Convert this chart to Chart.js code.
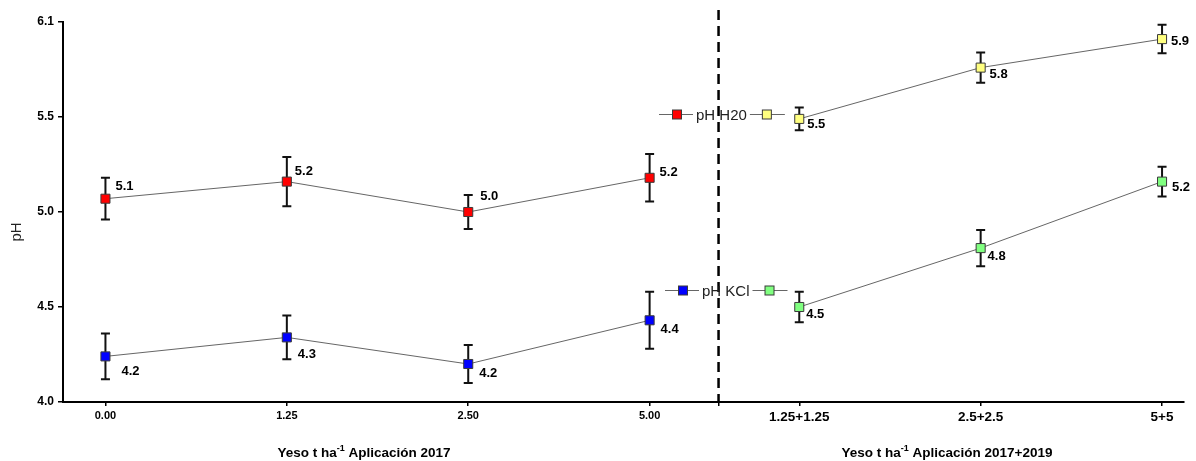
<!DOCTYPE html>
<html>
<head>
<meta charset="utf-8">
<title>pH</title>
<script src="https://cdn.jsdelivr.net/npm/chart.js@4.4.1/dist/chart.umd.min.js"></script>
<style>
  html, body { margin: 0; padding: 0; background: #fff; }
  canvas { display: block; }
</style>
</head>
<body>
<canvas id="phChart" width="1196" height="461"></canvas>
<script>
// doses (t/ha of gypsum) and their tick labels
const doses2017 = ["0.00", "1.25", "2.50", "5.00"];
const doses2019 = ["1.25+1.25", "2.5+2.5", "5+5"];
const yTickValues = [4.0, 4.5, 5.0, 5.5, 6.0];
const yTickLabels = ["4.0", "4.5", "5.0", "5.5", "6.1"];

// means and error (+/-) per dose
const phWater2017 = [5.07, 5.16, 5.00, 5.18];
const phWater2017Err = [0.11, 0.13, 0.09, 0.125];
const phKcl2017 = [4.24, 4.34, 4.20, 4.43];
const phKcl2017Err = [0.12, 0.115, 0.10, 0.15];
const phWater2019 = [5.49, 5.76, 5.91];
const phWater2019Err = [0.06, 0.08, 0.075];
const phKcl2019 = [4.50, 4.81, 5.16];
const phKcl2019Err = [0.08, 0.095, 0.078];

// x positions: the 2017+2019 group sits after a short break
const groupStart2019 = 3.825;
const dividerX = 3.38;
const x2017 = doses2017.map((d, i) => i);
const x2019 = doses2019.map((d, i) => groupStart2019 + i);

const fontFamily = '"Liberation Sans", Arial, Helvetica, sans-serif';

const series = [
  { name: "pH H20", xs: x2017, ys: phWater2017, err: phWater2017Err, color: "#ff0000",
    offsets: [[19, -12], [17, -10], [21, -16], [19, -5]] },
  { name: "pH KCl", xs: x2017, ys: phKcl2017, err: phKcl2017Err, color: "#0000ff",
    offsets: [[25, 15], [20, 17], [20, 9], [20, 9]] },
  { name: "pH H20", xs: x2019, ys: phWater2019, err: phWater2019Err, color: "#ffff80",
    offsets: [[17, 6], [18, 7], [18, 2]] },
  { name: "pH KCl", xs: x2019, ys: phKcl2019, err: phKcl2019Err, color: "#80ff80",
    offsets: [[16, 7], [16, 8], [19, 6]] }
];

// legend rows drawn inside the plot: left marker, text, right marker
const legendRows = [
  { text: "pH H20", x: 696, y: 114.5, left: 0, right: 2 },
  { text: "pH KCl", x: 702, y: 290.5, left: 1, right: 3 }
];

function drawSquare(ctx, cx, cy, color) {
  ctx.fillStyle = color;
  ctx.strokeStyle = "#3a3a3a";
  ctx.lineWidth = 1;
  ctx.fillRect(cx - 4.5, cy - 4.5, 9, 9);
  ctx.strokeRect(cx - 4.5, cy - 4.5, 9, 9);
}

// text with a superscript part, centred on cx
function drawSupText(ctx, before, sup, after, cx, cy, size) {
  const main = `bold ${size}px ${fontFamily}`;
  const small = `bold ${Math.round(size * 0.65)}px ${fontFamily}`;
  ctx.font = main;
  const w1 = ctx.measureText(before).width;
  const w3 = ctx.measureText(after).width;
  ctx.font = small;
  const w2 = ctx.measureText(sup).width;
  let x = cx - (w1 + w2 + w3) / 2;
  ctx.textAlign = "left";
  ctx.textBaseline = "alphabetic";
  ctx.fillStyle = "#000";
  ctx.font = main;
  ctx.fillText(before, x, cy + size * 0.35);
  x += w1;
  ctx.font = small;
  ctx.fillText(sup, x, cy - size * 0.1);
  x += w2;
  ctx.font = main;
  ctx.fillText(after, x, cy + size * 0.35);
}

const whiteBackground = {
  id: "whiteBackground",
  beforeDraw(chart) {
    const ctx = chart.ctx;
    ctx.save();
    ctx.fillStyle = "#fff";
    ctx.fillRect(0, 0, chart.width, chart.height);
    ctx.restore();
  }
};

const errorBars = {
  id: "errorBars",
  beforeDatasetsDraw(chart) {
    const { ctx, scales: { y } } = chart;
    ctx.save();
    ctx.strokeStyle = "#111";
    ctx.lineWidth = 2;
    chart.data.datasets.forEach((ds, di) => {
      chart.getDatasetMeta(di).data.forEach((pt, i) => {
        const v = ds.data[i].y;
        const e = ds.errors[i];
        const top = y.getPixelForValue(v + e);
        const bot = y.getPixelForValue(v - e);
        ctx.beginPath();
        ctx.moveTo(pt.x, top); ctx.lineTo(pt.x, bot);
        ctx.moveTo(pt.x - 4.5, top); ctx.lineTo(pt.x + 4.5, top);
        ctx.moveTo(pt.x - 4.5, bot); ctx.lineTo(pt.x + 4.5, bot);
        ctx.stroke();
      });
    });
    ctx.restore();
  }
};

const extras = {
  id: "extras",
  afterDatasetsDraw(chart) {
    const { ctx, chartArea, scales: { x } } = chart;
    ctx.save();

    // dashed break between the two application groups
    const dx = x.getPixelForValue(dividerX);
    ctx.strokeStyle = "#000";
    ctx.lineWidth = 2.5;
    ctx.setLineDash([10, 6]);
    ctx.beginPath();
    ctx.moveTo(dx, 10);
    ctx.lineTo(dx, chartArea.bottom);
    ctx.stroke();
    ctx.setLineDash([]);

    // value labels
    ctx.font = `bold 13px ${fontFamily}`;
    ctx.fillStyle = "#000";
    ctx.textAlign = "center";
    ctx.textBaseline = "middle";
    chart.data.datasets.forEach((ds, di) => {
      chart.getDatasetMeta(di).data.forEach((pt, i) => {
        const [ox, oy] = ds.labelOffsets[i];
        ctx.fillText(ds.data[i].y.toFixed(1), pt.x + ox, pt.y + oy);
      });
    });

    // legends
    ctx.font = `15px ${fontFamily}`;
    ctx.textAlign = "left";
    legendRows.forEach(row => {
      const w = ctx.measureText(row.text).width;
      ctx.strokeStyle = "#666";
      ctx.lineWidth = 1;
      ctx.beginPath();
      ctx.moveTo(row.x - 37, row.y); ctx.lineTo(row.x - 3, row.y);
      ctx.moveTo(row.x + w + 3, row.y); ctx.lineTo(row.x + w + 38, row.y);
      ctx.stroke();
      drawSquare(ctx, row.x - 19, row.y, series[row.left].color);
      drawSquare(ctx, row.x + w + 20, row.y, series[row.right].color);
      ctx.fillStyle = "#222";
      ctx.textBaseline = "middle";
      ctx.fillText(row.text, row.x, row.y + 1);
    });
    ctx.restore();
  },
  afterDraw(chart) {
    const ctx = chart.ctx;
    ctx.save();
    // axis titles
    drawSupText(ctx, "Yeso t ha", "-1", " Aplicación 2017", 364, 452, 13.5);
    drawSupText(ctx, "Yeso t ha", "-1", " Aplicación 2017+2019", 947, 452, 13.5);
    ctx.translate(17, 232);
    ctx.rotate(-Math.PI / 2);
    ctx.font = `15px ${fontFamily}`;
    ctx.fillStyle = "#222";
    ctx.textAlign = "center";
    ctx.textBaseline = "middle";
    ctx.fillText("pH", 0, 0);
    ctx.restore();
  }
};

new Chart(document.getElementById("phChart").getContext("2d"), {
  type: "line",
  data: {
    datasets: series.map(s => ({
      label: s.name,
      data: s.xs.map((xv, i) => ({ x: xv, y: s.ys[i] })),
      errors: s.err,
      labelOffsets: s.offsets,
      borderColor: "#666",
      borderWidth: 1,
      pointStyle: "rect",
      pointRadius: 6.4,
      pointBackgroundColor: s.color,
      pointBorderColor: "#3a3a3a",
      pointBorderWidth: 1,
      tension: 0,
      fill: false
    }))
  },
  options: {
    responsive: false,
    animation: false,
    devicePixelRatio: 1,
    layout: { padding: { top: 22, right: 12, left: 0, bottom: 0 } },
    plugins: {
      legend: { display: false },
      tooltip: { enabled: false }
    },
    scales: {
      x: {
        type: "linear",
        min: -0.234,
        max: 5.946,
        afterBuildTicks: scale => {
          scale.ticks = [...x2017, dividerX, ...x2019].map(value => ({ value }));
        },
        afterFit: scale => { scale.height = 59; },
        grid: { display: true, drawOnChartArea: false, drawTicks: true, tickLength: 4, color: "#000", lineWidth: 1.5 },
        border: { display: true, color: "#000", width: 2 },
        ticks: {
          autoSkip: false,
          maxRotation: 0,
          padding: 3,
          color: "#000",
          font: c => ({ family: fontFamily, weight: "bold", size: c.tick && c.tick.value > dividerX ? 13.5 : 11 }),
          callback: value => {
            const i = x2017.indexOf(value);
            if (i >= 0) return doses2017[i];
            const j = x2019.indexOf(value);
            if (j >= 0) return doses2019[j];
            return "";
          }
        }
      },
      y: {
        min: 4,
        max: 6,
        afterBuildTicks: scale => {
          scale.ticks = yTickValues.map(value => ({ value }));
        },
        afterFit: scale => { scale.width = 63; },
        grid: { display: true, drawOnChartArea: false, drawTicks: true, tickLength: 5, color: "#000", lineWidth: 1.5 },
        border: { display: true, color: "#000", width: 2 },
        ticks: {
          padding: 4,
          color: "#000",
          font: { family: fontFamily, weight: "bold", size: 12 },
          callback: (value, index) => yTickLabels[index]
        }
      }
    }
  },
  plugins: [whiteBackground, errorBars, extras]
});
</script>
</body>
</html>
